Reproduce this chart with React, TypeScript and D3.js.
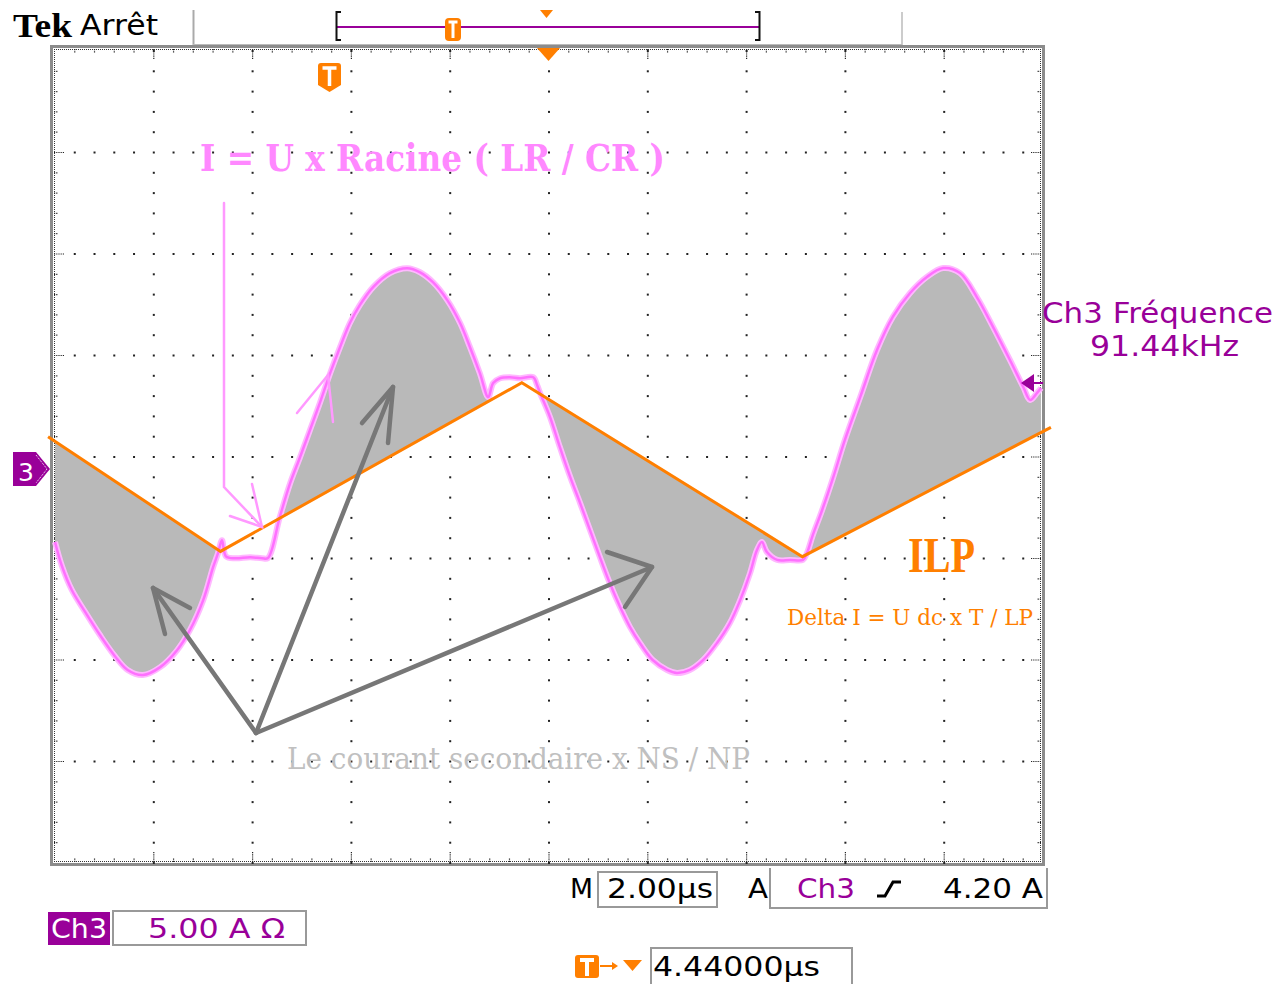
import React from "react";
import * as d3 from "d3";

const W = 1280;
const H = 984;

// Scope settings
const timePerDiv = 2; // µs
const ampsPerDiv = 5; // A
const ch3OffsetDiv = 3.88; // ground position of Ch3 in divisions from bottom
const hDivs = 10;
const vDivs = 8;

// Primary current ILP (orange triangle) — time µs, current A
const ilpTime = [-0.14, 3.35, 9.45, 15.13, 20.16];
const ilpCurrent = [1.6, -4.05, 4.26, -4.31, 2.06];

// Secondary current × NS/NP (pink trace) — time µs, current A
const secTime = [
  0.0, 0.14, 0.34, 0.61, 0.91, 1.21, 1.47, 1.78, 2.13, 2.47, 2.73, 3.0, 3.2, 3.3,
  3.38, 3.46, 3.64, 3.95, 4.19,
  4.31, 4.55, 4.76, 4.96, 5.16, 5.36, 5.57, 5.77, 5.97, 6.17, 6.44, 6.78, 7.13, 7.39, 7.65, 7.94, 8.2, 8.4, 8.6, 8.77,
  8.87, 9.01, 9.21, 9.41, 9.68, 9.76,
  9.82, 10.02, 10.22, 10.43, 10.63, 10.83, 11.03, 11.23, 11.44, 11.64, 11.84, 12.1, 12.39, 12.59, 12.85, 13.12, 13.4, 13.66, 13.87, 14.07, 14.21, 14.31, 14.41,
  14.62, 14.88, 15.14,
  15.22, 15.34, 15.53, 15.75, 15.99, 16.3, 16.64, 16.96, 17.31, 17.65, 17.98, 18.32, 18.66, 18.99, 19.33, 19.6, 19.74, 19.88, 19.96,
];
const secCurrent = [
  -3.59, -4.77, -5.95, -7.03, -8.17, -9.2, -9.89, -10.14, -9.75, -8.92, -7.93, -6.45, -4.83, -4.14,
  -3.5, -4.29, -4.39, -4.34, -4.39,
  -4.38, -2.36, -0.69, 0.59, 1.92, 3.25, 4.73, 6.01, 7.2, 8.08, 8.97, 9.66, 9.9, 9.7, 9.21, 8.33, 7.2, 6.01, 4.73, 3.55,
  4.24, 4.48, 4.53, 4.48, 4.53, 4.14,
  3.75, 2.57, 1.09, -0.39, -1.67, -3.0, -4.33, -5.61, -6.79, -7.78, -8.56, -9.4, -9.89, -10.04, -9.89, -9.4, -8.56, -7.58, -6.45, -5.12, -3.98, -3.59, -4.08,
  -4.47, -4.47, -4.47,
  -4.14, -3.25, -2.01, -0.43, 1.44, 3.55, 5.87, 7.5, 8.68, 9.47, 9.91, 9.66, 8.48, 7.0, 5.38, 4.05, 3.41, 3.76, 4.0,
];

// Time windows (µs) where the area between the two currents is shaded
const shadeStart = [-0.05, 4.54, 9.8, 15.2];
const shadeEnd = [3.31, 8.78, 15.15, 20];

// Texts
const titleTek = "Tek";
const titleState = "Arrêt";
const formulaLR = "I = U x Racine ( LR / CR )";
const secondaryLabel = "Le courant secondaire x NS / NP";
const ilpLabel = "ILP";
const deltaLabel = "Delta I = U dc x T / LP";
const freqLabel1 = "Ch3 Fréquence";
const freqLabel2 = "91.44kHz";
const timebaseLabel = "2.00µs";
const trigLevelLabel = "4.20 A";
const ch3ScaleLabel = "5.00 A Ω";
const trigPosLabel = "4.44000µs";

const PURPLE = "#990099";
const ORANGE = "#ff7f00";
const PINK = "#ff70ff";

export default function App() {
  const gx = d3.scaleLinear().domain([0, hDivs]).range([55, 1043]);
  const gy = d3.scaleLinear().domain([0, vDivs]).range([863, 51]);
  const xS = d3.scaleLinear().domain([0, hDivs * timePerDiv]).range([gx(0), gx(hDivs)]);
  const yS = d3
    .scaleLinear()
    .domain([-ch3OffsetDiv * ampsPerDiv, (vDivs - ch3OffsetDiv) * ampsPerDiv])
    .range([gy(0), gy(vDivs)]);
  const ilp = d3.scaleLinear().domain(ilpTime).range(ilpCurrent);

  const secPts = secTime.map((t, i) => ({ t, v: secCurrent[i] }));
  const ilpPts = ilpTime.map((t, i) => ({ t, v: ilpCurrent[i] }));

  const curve = d3.curveCatmullRom.alpha(0.5);
  const secLine = d3
    .line<{ t: number; v: number }>()
    .x((d) => xS(d.t))
    .y((d) => yS(d.v))
    .curve(curve);
  const ilpLine = d3
    .line<{ t: number; v: number }>()
    .x((d) => xS(d.t))
    .y((d) => yS(d.v));
  const shadeArea = d3
    .area<{ t: number; v: number }>()
    .x((d) => xS(d.t))
    .y0((d) => yS(ilp(d.t)))
    .y1((d) => yS(d.v))
    .curve(curve);

  const shades = shadeStart.map((a, i) =>
    shadeArea(secPts.filter((p) => p.t >= a && p.t <= shadeEnd[i]))
  );

  // grid dots
  const dots: JSX.Element[] = [];
  for (let i = 1; i < hDivs; i++) {
    for (let k = 0; k <= vDivs * 5; k++) {
      dots.push(
        <rect key={`v${i}-${k}`} x={gx(i) - 1} y={gy(k / 5) - 1} width={2} height={2} fill="#222" />
      );
    }
  }
  for (let j = 1; j < vDivs; j++) {
    for (let k = 0; k <= hDivs * 5; k++) {
      if (k % 5 === 0) continue;
      dots.push(
        <rect key={`h${j}-${k}`} x={gx(k / 5) - 1} y={gy(j) - 1} width={2} height={2} fill="#222" />
      );
    }
  }

  // border ticks
  const ticks: JSX.Element[] = [];
  for (let k = 1; k < hDivs * 5; k++) {
    const x = gx(k / 5);
    const len = k % 5 === 0 ? 10 : 4;
    ticks.push(<line key={`tt${k}`} x1={x} x2={x} y1={49} y2={49 + len} stroke="#222" strokeWidth={1.2} strokeDasharray="1.2,1" />);
    ticks.push(<line key={`tb${k}`} x1={x} x2={x} y1={862} y2={862 - len} stroke="#222" strokeWidth={1.2} strokeDasharray="1.2,1" />);
  }
  for (let k = 1; k < vDivs * 5; k++) {
    const y = gy(k / 5);
    const len = k % 5 === 0 ? 10 : 4;
    ticks.push(<line key={`tl${k}`} y1={y} y2={y} x1={54} x2={54 + len} stroke="#222" strokeWidth={1.2} strokeDasharray="1.2,1" />);
    ticks.push(<line key={`tr${k}`} y1={y} y2={y} x1={1041} x2={1041 - len} stroke="#222" strokeWidth={1.2} strokeDasharray="1.2,1" />);
  }

  const sans = "'DejaVu Sans', Verdana, sans-serif";
  const serif = "'DejaVu Serif', 'Liberation Serif', serif";
  const secPath = secLine(secPts) || "";

  return (
    <svg width={W} height={H} style={{ position: "absolute", left: 0, top: 0, background: "#fff" }}>
      <rect x={0} y={0} width={W} height={H} fill="#fff" />

      {/* top bar */}
      <text x={13} y={37} fontFamily="'Liberation Serif', serif" fontWeight="bold" fontSize={34} textLength={59} lengthAdjust="spacingAndGlyphs">{titleTek}</text>
      <text x={80} y={35} fontFamily={sans} fontSize={29} textLength={78} lengthAdjust="spacingAndGlyphs">{titleState}</text>
      <line x1={193.5} x2={193.5} y1={10} y2={46} stroke="#aaa" strokeWidth={2} />
      <line x1={902} x2={902} y1={12} y2={46} stroke="#ccc" strokeWidth={2} />
      <line x1={193} x2={902} y1={45} y2={45} stroke="#bbb" strokeWidth={2} />
      <line x1={337} x2={760} y1={27} y2={27} stroke={PURPLE} strokeWidth={2} />
      <path d="M341,12 H336.5 V40 H341" fill="none" stroke="#111" strokeWidth={2} />
      <path d="M755,12 H759.5 V40 H755" fill="none" stroke="#111" strokeWidth={2} />
      <rect x={445} y={18} width={16} height={23} rx={4} fill={ORANGE} />
      <path d="M448.5,22 H457.5 M453,22 V38" stroke="#fff" strokeWidth={3} />
      <path d="M540,10 L553,10 L546.5,18 Z" fill={ORANGE} />

      {/* frame */}
      <rect x={51.5} y={46.5} width={992} height={818} fill="none" stroke="#8c8c8c" strokeWidth={3} />
      <line x1={54} x2={1041} y1={49.5} y2={49.5} stroke="#333" strokeWidth={1} strokeDasharray="1,1" />
      <line x1={54} x2={1041} y1={861.5} y2={861.5} stroke="#333" strokeWidth={1} strokeDasharray="1,1" />
      <line x1={54.5} x2={54.5} y1={49} y2={862} stroke="#333" strokeWidth={1} strokeDasharray="1,1" />
      <line x1={1040.5} x2={1040.5} y1={49} y2={862} stroke="#333" strokeWidth={1} strokeDasharray="1,1" />
      {ticks}
      {dots}
      <path d="M537,48 L560,48 L548.5,61 Z" fill={ORANGE} />

      {/* trigger marker */}
      <path d="M318,66 Q318,63 321,63 H338 Q341,63 341,66 V85 L329.5,92 L318,85 Z" fill={ORANGE} />
      <path d="M322.5,68 H336.5 M329.5,68 V86" stroke="#fff" strokeWidth={3.5} />

      {/* shaded regions */}
      {shades.map((d, i) => (
        <path key={`s${i}`} d={d || ""} fill="#b9b9b9" stroke="none" />
      ))}

      {/* pink trace */}
      <path d={secPath} fill="none" stroke="#ffb8ff" strokeWidth={6} strokeLinejoin="round" />
      <path d={secPath} fill="none" stroke={PINK} strokeWidth={2.5} strokeLinejoin="round" />

      {/* orange ILP */}
      <path d={ilpLine(ilpPts) || ""} fill="none" stroke={ORANGE} strokeWidth={3} />

      {/* Ch3 ground marker */}
      <path d="M13,452 H36 L50,469 L36,486 H13 Z" fill={PURPLE} />
      <path d="M36,455 L47,469 L36,483" fill="none" stroke="#fff" strokeWidth={1} strokeDasharray="1,1" />
      <text x={26} y={481} textAnchor="middle" fill="#fff" fontFamily={sans} fontSize={25}>3</text>

      {/* pink annotation */}
      <text x={200} y={171} fill="#ff88ff" fontFamily={serif} fontWeight="bold" fontSize={38} textLength={465} lengthAdjust="spacingAndGlyphs">{formulaLR}</text>
      <g stroke="#ff99ff" strokeWidth={2.5} fill="none" strokeLinecap="round">
        <path d="M224,203 V487 L262,527" />
        <path d="M230,516 L262,527 L252,484" />
        <path d="M297,413 L328,375 L333,422" />
      </g>

      {/* gray arrows */}
      <g stroke="#777" strokeWidth={4.5} fill="none" strokeLinecap="round" strokeLinejoin="round">
        <path d="M256,733 L153,588" />
        <path d="M190,608 L153,588 L165,634" />
        <path d="M256,733 L393,387" />
        <path d="M362,423 L393,387 L388,443" />
        <path d="M256,733 L652,567" />
        <path d="M607,552 L652,567 L625,607" />
      </g>
      <text x={287} y={769} fill="#c0c0c0" fontFamily={serif} fontSize={30} textLength={463} lengthAdjust="spacingAndGlyphs">{secondaryLabel}</text>

      {/* ILP labels */}
      <text x={908} y={572} fill={ORANGE} fontFamily="'Liberation Serif', serif" fontWeight="bold" fontSize={50} textLength={67} lengthAdjust="spacingAndGlyphs">{ilpLabel}</text>
      <text x={787} y={625} fill={ORANGE} fontFamily={serif} fontSize={23} textLength={246} lengthAdjust="spacingAndGlyphs">{deltaLabel}</text>

      {/* frequency readout */}
      <text x={1042} y={323} fill={PURPLE} fontFamily={sans} fontSize={28} textLength={231} lengthAdjust="spacingAndGlyphs">{freqLabel1}</text>
      <text x={1090} y={356} fill={PURPLE} fontFamily={sans} fontSize={28} textLength={149} lengthAdjust="spacingAndGlyphs">{freqLabel2}</text>
      <path d="M1021,383 L1034,374 L1034,392 Z" fill={PURPLE} />
      <line x1={1033} x2={1043} y1={383} y2={383} stroke={PURPLE} strokeWidth={2} />

      {/* bottom readouts */}
      <text x={570} y={898} fontFamily={sans} fontSize={27} textLength={23} lengthAdjust="spacingAndGlyphs">M</text>
      <rect x={598} y={872} width={119} height={35} fill="none" stroke="#999" strokeWidth={2} />
      <text x={607} y={898} fontFamily={sans} fontSize={27} textLength={106} lengthAdjust="spacingAndGlyphs">{timebaseLabel}</text>
      <text x={748} y={898} fontFamily={sans} fontSize={27} textLength={20} lengthAdjust="spacingAndGlyphs">A</text>
      <path d="M770,868 V908 H1047 V868" fill="none" stroke="#999" strokeWidth={2} />
      <text x={797} y={898} fill={PURPLE} fontFamily={sans} fontSize={27} textLength={58} lengthAdjust="spacingAndGlyphs">Ch3</text>
      <path d="M877,896 H885 L893,882 H901" fill="none" stroke="#000" strokeWidth={3} />
      <text x={943} y={898} fontFamily={sans} fontSize={27} textLength={100} lengthAdjust="spacingAndGlyphs">{trigLevelLabel}</text>

      <rect x={48} y={912} width={62} height={33} fill={PURPLE} />
      <text x={51} y={938} fill="#fff" fontFamily={sans} fontSize={27} textLength={56} lengthAdjust="spacingAndGlyphs">Ch3</text>
      <rect x={113} y={911} width={193} height={34} fill="none" stroke="#999" strokeWidth={2} />
      <text x={148} y={938} fill={PURPLE} fontFamily={sans} fontSize={27} textLength={137} lengthAdjust="spacingAndGlyphs">{ch3ScaleLabel}</text>

      <rect x={575} y={955} width={24} height={23} rx={3} fill={ORANGE} />
      <path d="M580,960 H594 M587,960 V976" stroke="#fff" strokeWidth={4} />
      <line x1={600} x2={613} y1={966} y2={966} stroke={ORANGE} strokeWidth={2} />
      <path d="M612,962 L618,966 L612,970 Z" fill={ORANGE} />
      <path d="M623,960 L642,960 L632.5,971 Z" fill={ORANGE} />
      <rect x={651} y={948} width={201} height={45} fill="none" stroke="#999" strokeWidth={2} />
      <text x={653} y={976} fontFamily={sans} fontSize={27} textLength={167} lengthAdjust="spacingAndGlyphs">{trigPosLabel}</text>
    </svg>
  );
}
